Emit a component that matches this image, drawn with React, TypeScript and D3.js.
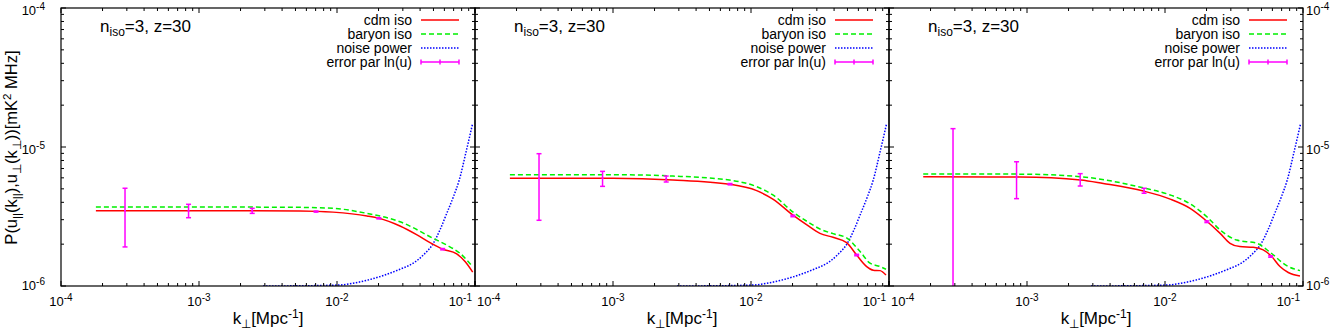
import React from 'react';
import * as d3 from 'd3';

const W = 1332;
const H = 332;
const PANEL_LEFT = [61, 475, 889];
const PANEL_W = 414;
const TOP = 8;
const BOTTOM = 286;
const FONT = 'Liberation Sans, Arial, Helvetica, sans-serif';

const xDomain: [number, number] = [1e-4, 1e-1];
const yDomain: [number, number] = [1e-6, 1e-4];
const xMajor = [1e-4, 1e-3, 1e-2, 1e-1];
const xMajorExp = ['-4', '-3', '-2', '-1'];
const yMajor = [1e-6, 1e-5, 1e-4];
const yMajorExp = ['-6', '-5', '-4'];

const legendLabels = ['cdm iso', 'baryon iso', 'noise power', 'error par ln(u)'];

// noise power (same in all panels)
const noiseK = [2.91e-3, 5e-3, 0.0102, 0.0165, 0.0286, 0.0357, 0.0422, 0.0499, 0.0557, 0.0624, 0.0697, 0.0769, 0.0861, 0.0962];
const noiseP = [1.0e-6, 1.003e-6, 1.016e-6, 1.10e-6, 1.32e-6, 1.46e-6, 1.67e-6, 2.03e-6, 2.53e-6, 3.33e-6, 4.38e-6, 5.79e-6, 9.2e-6, 1.48e-5];

// error bar positions
const errK = [2.91e-4, 8.4e-4, 2.43e-3, 7.05e-3, 2.01e-2, 5.83e-2];

// panel 1
const cdmK1 = [1.79e-4, 1e-3, 2.34e-3, 5.4e-3, 9.35e-3, 0.0165, 0.0201, 0.0286, 0.038, 0.0472, 0.0583, 0.0737, 0.0847, 0.0962];
const cdmP1 = [3.48e-6, 3.48e-6, 3.48e-6, 3.47e-6, 3.40e-6, 3.19e-6, 3.07e-6, 2.70e-6, 2.33e-6, 2.05e-6, 1.84e-6, 1.70e-6, 1.50e-6, 1.26e-6];
const barK1 = [1.79e-4, 1e-3, 5.4e-3, 9.35e-3, 0.0165, 0.0286, 0.0499, 0.0624, 0.0778, 0.0962];
const barP1 = [3.70e-6, 3.70e-6, 3.68e-6, 3.62e-6, 3.33e-6, 2.90e-6, 2.20e-6, 1.97e-6, 1.72e-6, 1.38e-6];
const errC1 = [3.48e-6, 3.48e-6, 3.48e-6, 3.43e-6, 3.07e-6, 1.84e-6];
const errLo1 = [1.91e-6, 3.10e-6, 3.33e-6, 3.40e-6, 3.04e-6, 1.82e-6];
const errHi1 = [5.05e-6, 3.87e-6, 3.62e-6, 3.46e-6, 3.10e-6, 1.86e-6];

// panel 2
const cdmK2 = [1.79e-4, 1e-3, 2.72e-3, 6.97e-3, 0.0110, 0.0144, 0.0205, 0.0254, 0.0316, 0.0393, 0.0493, 0.0583, 0.0689, 0.0769, 0.0861, 0.0951];
const cdmP2 = [5.96e-6, 5.96e-6, 5.80e-6, 5.40e-6, 4.85e-6, 4.22e-6, 3.19e-6, 2.75e-6, 2.39e-6, 2.24e-6, 2.05e-6, 1.67e-6, 1.38e-6, 1.30e-6, 1.29e-6, 1.20e-6];
const barK2 = [1.79e-4, 1e-3, 2.72e-3, 6.97e-3, 0.0110, 0.0144, 0.0205, 0.0254, 0.0327, 0.0393, 0.0493, 0.0617, 0.0728, 0.0861, 0.0951];
const barP2 = [6.32e-6, 6.32e-6, 6.18e-6, 5.78e-6, 5.18e-6, 4.52e-6, 3.36e-6, 2.92e-6, 2.53e-6, 2.38e-6, 2.22e-6, 1.77e-6, 1.46e-6, 1.38e-6, 1.32e-6];
const errC2 = [5.96e-6, 5.96e-6, 5.89e-6, 5.40e-6, 3.19e-6, 1.67e-6];
const errLo2 = [2.97e-6, 5.21e-6, 5.60e-6, 5.34e-6, 3.15e-6, 1.65e-6];
const errHi2 = [8.95e-6, 6.68e-6, 6.18e-6, 5.46e-6, 3.23e-6, 1.69e-6];

// panel 3
const cdmK3 = [1.77e-4, 8.9e-4, 2.45e-3, 3.57e-3, 6.97e-3, 0.0109, 0.0152, 0.0203, 0.0251, 0.0296, 0.0349, 0.0436, 0.0515, 0.0593, 0.0681, 0.0782, 0.0951];
const cdmP3 = [6.11e-6, 6.08e-6, 5.80e-6, 5.47e-6, 4.82e-6, 4.22e-6, 3.62e-6, 2.90e-6, 2.39e-6, 2.03e-6, 1.92e-6, 1.90e-6, 1.82e-6, 1.63e-6, 1.38e-6, 1.25e-6, 1.18e-6];
const barK3 = [1.77e-4, 8.9e-4, 2.45e-3, 6.97e-3, 0.0109, 0.0152, 0.0203, 0.0251, 0.0331, 0.0462, 0.0577, 0.0762, 0.0951];
const barP3 = [6.40e-6, 6.38e-6, 6.11e-6, 5.08e-6, 4.52e-6, 3.90e-6, 3.12e-6, 2.53e-6, 2.14e-6, 2.03e-6, 1.75e-6, 1.40e-6, 1.29e-6];
const errC3 = [6.11e-6, 6.08e-6, 5.80e-6, 4.82e-6, 2.90e-6, 1.63e-6];
const errLo3 = [1e-7, 4.25e-6, 5.24e-6, 4.65e-6, 2.86e-6, 1.61e-6];
const errHi3 = [1.355e-5, 7.83e-6, 6.43e-6, 5.05e-6, 2.94e-6, 1.65e-6];

const panels = [
  { cdmK: cdmK1, cdmP: cdmP1, barK: barK1, barP: barP1, errC: errC1, errLo: errLo1, errHi: errHi1 },
  { cdmK: cdmK2, cdmP: cdmP2, barK: barK2, barP: barP2, errC: errC2, errLo: errLo2, errHi: errHi2 },
  { cdmK: cdmK3, cdmP: cdmP3, barK: barK3, barP: barP3, errC: errC3, errLo: errLo3, errHi: errHi3 },
];

const RED = '#ff0000';
const GREEN = '#00f000';
const BLUE = '#0000ff';
const MAGENTA = '#ff00ff';

function zip(a: number[], b: number[]): [number, number][] {
  return a.map((v, i) => [v, b[i]] as [number, number]);
}

function Panel({ idx }: { idx: number }) {
  const p = panels[idx];
  const L = PANEL_LEFT[idx];
  const R = L + PANEL_W;
  const x = d3.scaleLog().domain(xDomain).range([L, R]);
  const y = d3.scaleLog().domain(yDomain).range([BOTTOM, TOP]);
  const line = d3
    .line<[number, number]>()
    .x((d) => x(d[0]))
    .y((d) => y(d[1]))
    .curve(d3.curveMonotoneX);
  const clipId = `clip${idx}`;

  const xMinor: number[] = [];
  [1e-4, 1e-3, 1e-2].forEach((dec) => {
    for (let m = 2; m <= 9; m++) xMinor.push(dec * m);
  });
  const yMinor: number[] = [];
  [1e-6, 1e-5].forEach((dec) => {
    for (let m = 2; m <= 9; m++) yMinor.push(dec * m);
  });

  const ticks: JSX.Element[] = [];
  xMajor.forEach((v, i) => {
    const px = x(v);
    ticks.push(<line key={`xb${i}`} x1={px} x2={px} y1={BOTTOM} y2={BOTTOM - 5} />);
    ticks.push(<line key={`xt${i}`} x1={px} x2={px} y1={TOP} y2={TOP + 5} />);
  });
  xMinor.forEach((v, i) => {
    const px = x(v);
    ticks.push(<line key={`xbm${i}`} x1={px} x2={px} y1={BOTTOM} y2={BOTTOM - 3} />);
    ticks.push(<line key={`xtm${i}`} x1={px} x2={px} y1={TOP} y2={TOP + 3} />);
  });
  yMajor.forEach((v, i) => {
    const py = y(v);
    ticks.push(<line key={`yl${i}`} x1={L} x2={L + 5} y1={py} y2={py} />);
    ticks.push(<line key={`yr${i}`} x1={R} x2={R - 5} y1={py} y2={py} />);
  });
  yMinor.forEach((v, i) => {
    const py = y(v);
    ticks.push(<line key={`ylm${i}`} x1={L} x2={L + 3} y1={py} y2={py} />);
    ticks.push(<line key={`yrm${i}`} x1={R} x2={R - 3} y1={py} y2={py} />);
  });

  const xLabels = xMajor.map((v, i) => {
    const px = x(v);
    let anchor = 'middle';
    let tx = px;
    if (i === 0 && idx > 0) {
      anchor = 'start';
      tx = L + 2;
    } else if (i === xMajor.length - 1) {
      anchor = 'end';
      tx = R - 3;
    }
    return (
      <text key={`xl${i}`} x={tx} y={306} textAnchor={anchor} fontSize={13}>
        10<tspan dy={-5.5} fontSize={10}>{xMajorExp[i]}</tspan>
      </text>
    );
  });

  const yLabels: JSX.Element[] = [];
  yMajor.forEach((v, i) => {
    const py = y(v);
    const by = Math.min(py + 7, 290);
    if (idx === 0) {
      yLabels.push(
        <text key={`yll${i}`} x={45} y={by} textAnchor="end" fontSize={13}>
          10<tspan dy={-5.5} fontSize={10}>{yMajorExp[i]}</tspan>
        </text>
      );
    }
    if (idx === 2) {
      yLabels.push(
        <text key={`ylr${i}`} x={R + 3} y={by} textAnchor="start" fontSize={13}>
          10<tspan dy={-5.5} fontSize={10}>{yMajorExp[i]}</tspan>
        </text>
      );
    }
  });

  const errBars = errK.map((k, i) => {
    const cx = x(k);
    const hi = p.errHi[i];
    const lo = p.errLo[i];
    const yTop = y(Math.min(hi, yDomain[1]));
    const yBot = y(Math.max(lo, yDomain[0]));
    return (
      <g key={`e${i}`}>
        <line x1={cx} x2={cx} y1={yTop} y2={yBot} />
        {hi <= yDomain[1] && <line x1={cx - 2.5} x2={cx + 2.5} y1={y(hi)} y2={y(hi)} />}
        {lo >= yDomain[0] && <line x1={cx - 2.5} x2={cx + 2.5} y1={y(lo)} y2={y(lo)} />}
        <line x1={cx - 1} x2={cx + 1} y1={y(p.errC[i])} y2={y(p.errC[i])} />
      </g>
    );
  });

  // legend
  const lx1 = R - 54;
  const lx2 = R - 16;
  const legendRows = legendLabels.map((lab, i) => {
    const ly = 20 + 14 * i;
    let sample: JSX.Element;
    if (i === 0) sample = <line x1={lx1} x2={lx2} y1={ly} y2={ly} stroke={RED} strokeWidth={1.5} />;
    else if (i === 1)
      sample = <line x1={lx1} x2={lx2} y1={ly} y2={ly} stroke={GREEN} strokeWidth={1.5} strokeDasharray="5,3" />;
    else if (i === 2)
      sample = <line x1={lx1} x2={lx2} y1={ly} y2={ly} stroke={BLUE} strokeWidth={1.5} strokeDasharray="1.5,1.5" />;
    else
      sample = (
        <g stroke={MAGENTA} strokeWidth={1.5}>
          <line x1={lx1} x2={lx2} y1={ly} y2={ly} />
          <line x1={lx1} x2={lx1} y1={ly - 2.5} y2={ly + 2.5} />
          <line x1={lx2} x2={lx2} y1={ly - 2.5} y2={ly + 2.5} />
          <line x1={(lx1 + lx2) / 2} x2={(lx1 + lx2) / 2} y1={ly - 2.5} y2={ly + 2.5} />
        </g>
      );
    return (
      <g key={`lg${i}`}>
        <text x={R - 63} y={ly + 5} textAnchor="end" fontSize={14}>
          {lab}
        </text>
        {sample}
      </g>
    );
  });

  return (
    <g>
      <defs>
        <clipPath id={clipId}>
          <rect x={L} y={TOP} width={PANEL_W} height={BOTTOM - TOP} />
        </clipPath>
      </defs>
      <g clipPath={`url(#${clipId})`} fill="none">
        <path d={line(zip(noiseK, noiseP)) || ''} stroke={BLUE} strokeWidth={1.5} strokeDasharray="1.5,1.5" />
        <path d={line(zip(p.barK, p.barP)) || ''} stroke={GREEN} strokeWidth={1.5} strokeDasharray="5,3" />
        <path d={line(zip(p.cdmK, p.cdmP)) || ''} stroke={RED} strokeWidth={1.5} />
        <g stroke={MAGENTA} strokeWidth={1.5}>
          {errBars}
        </g>
      </g>
      <g stroke="#000" strokeWidth={1}>
        {ticks}
      </g>
      <rect x={L} y={TOP} width={PANEL_W} height={BOTTOM - TOP} fill="none" stroke="#000" strokeWidth={1.2} />
      <g fill="#000">
        {xLabels}
        {yLabels}
        {legendRows}
        <text x={L + 39} y={31.5} fontSize={17}>
          n<tspan dy={4} fontSize={12}>iso</tspan>
          <tspan dy={-4}>=3, z=30</tspan>
        </text>
        <text x={L + PANEL_W / 2} y={324} textAnchor="middle" fontSize={17}>
          k<tspan dy={4} fontSize={12}>⊥</tspan>
          <tspan dy={-4}>[Mpc</tspan>
          <tspan dy={-6} fontSize={12}>-1</tspan>
          <tspan dy={6}>]</tspan>
        </text>
      </g>
    </g>
  );
}

export default function App() {
  return (
    <svg
      width={W}
      height={H}
      viewBox={`0 0 ${W} ${H}`}
      style={{ position: 'absolute', left: 0, top: 0, background: '#fff' }}
      fontFamily={FONT}
    >
      <rect x={0} y={0} width={W} height={H} fill="#fff" />
      {[0, 1, 2].map((i) => (
        <Panel key={i} idx={i} />
      ))}
      <text transform="translate(17,147.5) rotate(-90)" textAnchor="middle" fontSize={16.5} fill="#000">
        P(u<tspan dy={4} fontSize={11.5}>||</tspan>
        <tspan dy={-4}>(k</tspan>
        <tspan dy={4} fontSize={11.5}>||</tspan>
        <tspan dy={-4}>),u</tspan>
        <tspan dy={4} fontSize={11.5}>⊥</tspan>
        <tspan dy={-4}>(k</tspan>
        <tspan dy={4} fontSize={11.5}>⊥</tspan>
        <tspan dy={-4}>))[mK</tspan>
        <tspan dy={-6} fontSize={11.5}>2</tspan>
        <tspan dy={6}> MHz]</tspan>
      </text>
    </svg>
  );
}
